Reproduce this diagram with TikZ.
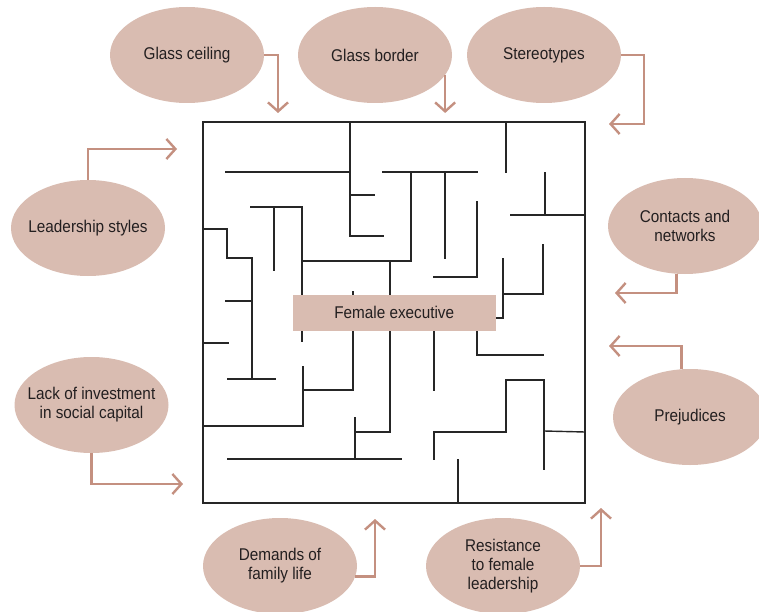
\documentclass[tikz,border=0pt]{standalone}
\usepackage{fontspec}
\setmainfont{Liberation Sans}[FakeStretch=0.9]
\usetikzlibrary{shapes.geometric,arrows.meta}
\definecolor{ellfill}{RGB}{217,188,177}
\definecolor{arrcol}{RGB}{196,144,128}
\definecolor{mazecol}{RGB}{38,38,38}
\definecolor{txtcol}{RGB}{35,31,32}
\tikzset{
  factor/.style={ellipse, fill=ellfill, minimum width=154pt, minimum height=96pt,
    inner xsep=-30pt, inner ysep=0pt, align=center, text=txtcol,
    font=\fontsize{17}{19}\selectfont},
  link/.style={draw=arrcol, line width=2.4pt, -{Straight Barb[length=9pt,width=20pt]}},
  wall/.style={draw=mazecol, line width=1.4pt, line cap=rect},
  outerwall/.style={draw=mazecol, line width=1.8pt},
  centerlabel/.style={rectangle, fill=ellfill, minimum width=203pt, minimum height=36pt,
    inner sep=0pt, text=txtcol, font=\fontsize{17}{19}\selectfont}
}
\begin{document}
\begin{tikzpicture}[x=1pt,y=-1pt]
\useasboundingbox (0,0) rectangle (759,612);
% maze
\draw[outerwall] (203,122) rectangle (585,503);
\draw[wall] (350,122) -- (350,236);
\draw[wall] (350,195) -- (374,195);
\draw[wall] (350,236) -- (383,236);
\draw[wall] (226,172) -- (350,172);
\draw[wall] (383,172) -- (477,172);
\draw[wall] (251,207) -- (302,207);
\draw[wall] (274,207) -- (274,270);
\draw[wall] (302,207) -- (302,341);
\draw[wall] (302,261) -- (411,261);
\draw[wall] (411,172) -- (411,261);
\draw[wall] (390,261) -- (390,432);
\draw[wall] (355,432) -- (390,432);
\draw[wall] (355,418) -- (355,459);
\draw[wall] (228,459) -- (401,459);
\draw[wall] (203,229) -- (227,229) -- (227,258) -- (252,258) -- (252,379);
\draw[wall] (228,379) -- (275,379);
\draw[wall] (226,301) -- (252,301);
\draw[wall] (203,343) -- (228,343);
\draw[wall] (303,367) -- (303,426);
\draw[wall] (203,426) -- (303,426);
\draw[wall] (303,390) -- (353,390);
\draw[wall] (353,292) -- (353,390);
\draw[wall] (445,172) -- (445,258);
\draw[wall] (477,202) -- (477,277);
\draw[wall] (434,277) -- (477,277);
\draw[wall] (506,122) -- (506,172);
\draw[wall] (545,173) -- (545,215);
\draw[wall] (511,215) -- (585,215);
\draw[wall] (543,245) -- (543,294);
\draw[wall] (503,294) -- (543,294);
\draw[wall] (503,259) -- (503,318) -- (480,318);
\draw[wall] (477,325) -- (477,355) -- (543,355);
\draw[wall] (434,325) -- (434,390);
\draw[wall] (544,469) -- (544,380) -- (506,380) -- (506,432) -- (434,432) -- (434,459);
\draw[wall] (544,431) -- (585,432);
\draw[wall] (458,460) -- (458,503);
% centre label
\node[centerlabel] (fe) at (394.2,312.8) {Female executive};
% factors
\node[factor] (gc) at (187,55) {Glass ceiling};
\node[factor] (gb) at (375,55) {Glass border};
\node[factor] (st) at (544,55) {Stereotypes};
\node[factor] (ls) at (88,228) {Leadership styles};
\node[factor] (li) at (91.5,405) {Lack of investment\\in social capital};
\node[factor] (cn) at (685,226) {Contacts and\\networks};
\node[factor] (pj) at (690,417) {Prejudices};
\node[factor] (dm) at (280,566) {Demands of\\family life};
\node[factor] (rs) at (503,566) {Resistance\\to female\\leadership};
% arrow ends
\coordinate (gcEnd) at (278,113);
\coordinate (gbEnd) at (445,113);
\coordinate (stBend) at (644,124);
\coordinate (stEnd) at (609,124);
\coordinate (lsEnd) at (177,149);
\coordinate (liEnd) at (183,484);
\coordinate (cnEnd) at (615,293);
\coordinate (pjEnd) at (609,346);
\coordinate (dmEnd) at (375,519);
\coordinate (rsEnd) at (601,508);
% arrows
\draw[link] (gc.east) -| (gcEnd);
\draw[link] (gb.-16) -- (gb.-16 |- gbEnd);
\draw[link] (st.east) -| (stBend) -- (stEnd);
\draw[link] (ls.north) |- (lsEnd);
\draw[link] (li.south) |- (liEnd);
\draw[link] (cn.-100) |- (cnEnd);
\draw[link] (pj.100) |- (pjEnd);
\draw[link] (dm.-8) -| (dmEnd);
\draw[link] (rs.east) -| (rsEnd);
\end{tikzpicture}
\end{document}
